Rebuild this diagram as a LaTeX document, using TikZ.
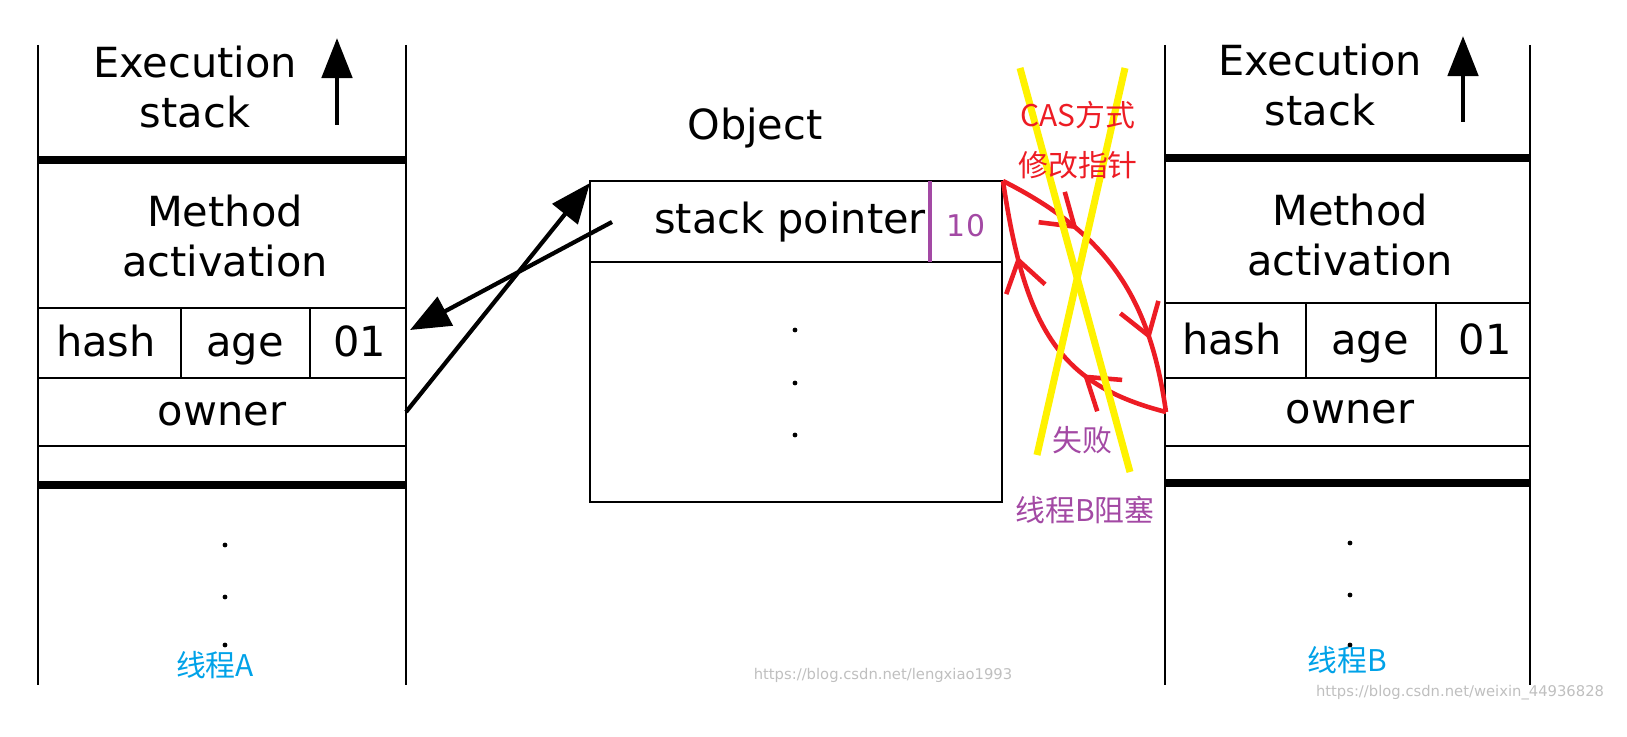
\documentclass[tikz,border=0pt]{standalone}
\usepackage{fontspec}
\setmainfont{DejaVu Sans}
\newfontfamily\cjk{Noto Sans CJK SC}
\usetikzlibrary{decorations.markings,arrows.meta}
\definecolor{casred}{RGB}{237,28,36}
\definecolor{failpurple}{RGB}{163,73,164}
\definecolor{threadblue}{RGB}{0,162,232}
\tikzset{
  lbl/.style={font=\fontsize{11.8}{14}\selectfont, align=center, inner sep=0pt},
  cell/.style={lbl, text height=1.6ex, text depth=0.4ex},
  cn/.style={font=\cjk\fontsize{8.5}{10}\selectfont, inner sep=0pt},
  wm/.style={font=\fontsize{4.2}{5}\selectfont, text=black!25, inner sep=0pt},
  redloop/.style={casred, line width=1.3pt, postaction={decorate},
    decoration={markings,
      mark=at position 0.3 with {\arrow{Straight Barb[length=3mm,width=4mm]}},
      mark=at position 0.75 with {\arrow{Straight Barb[length=3mm,width=4mm]}}}}
}
\begin{document}
\begin{tikzpicture}[x=0.01cm,y=-0.01cm]
        \useasboundingbox (0,0) rectangle (1627,737);
        \clip (0,0) rectangle (1627,737);

        % thread A stack
        \draw[thick] (38,45) -- (38,685);
        \draw[thick] (406,45) -- (406,685);
        \draw[line width=2.2pt] (38,160) -- (406,160);
        \draw[line width=2.2pt] (38,485) -- (406,485);
        \foreach \y in {308,378,446}
        \draw[thick] (38,\y) -- (406,\y);
        \foreach \x in {181,310}
        \draw[thick] (\x,308) -- (\x,378);
        \node[lbl] (execA) at (195,87) {Execution\\stack};
        \draw[-{Triangle[length=4mm,width=3mm]},line width=1.4pt] (337,125) -- (337,38);
        \node[lbl] (methA) at (225,236) {Method\\activation};
        \node[cell] (hashA) at (106,345) {hash};
        \node[cell] (ageA) at (245,345) {age};
        \node[cell] (bitsA) at (360,345) {01};
        \node[cell] (ownerA) at (222,414) {owner};
        \foreach \y in {545,597,645}
        \fill (225,\y) circle (2.4);
        \node[cn,text=threadblue] (thrA) at (215,665) {线程A};

        % object
        \node[lbl] (obj) at (755,128) {Object};
        \draw[thick] (590,181) rectangle (1002,502);
        \draw[thick] (590,262) -- (1002,262);
        \draw[failpurple,line width=1.4pt] (930,181) -- (930,262);
        \node[cell] (sp) at (790,222) {stack pointer};
        \node[cell,text=failpurple,font=\fontsize{8.5}{10}\selectfont] (ten) at (966,225) {10};
        \foreach \y in {330,383,435}
        \fill (795,\y) circle (2.4);

        % pointers
        \coordinate (spout) at (612,222);
        \coordinate (bitsin) at (410,330);
        \coordinate (ownout) at (406,412);
        \coordinate (objin) at (590,183);
        \draw[-{Triangle[length=4mm,width=3.2mm]},line width=1.2pt] (spout) -- (bitsin);
        \draw[-{Triangle[length=4mm,width=3.2mm]},line width=1.2pt] (ownout) -- (objin);

        % thread B stack
        \draw[thick] (1165,45) -- (1165,685);
        \draw[thick] (1530,45) -- (1530,685);
        \draw[line width=2.2pt] (1165,158) -- (1530,158);
        \draw[line width=2.2pt] (1165,483) -- (1530,483);
        \foreach \y in {303,378,446}
        \draw[thick] (1165,\y) -- (1530,\y);
        \foreach \x in {1306,1436}
        \draw[thick] (\x,303) -- (\x,378);
        \node[lbl] (execB) at (1320,85) {Execution\\stack};
        \draw[-{Triangle[length=4mm,width=3mm]},line width=1.4pt] (1463,122) -- (1463,36);
        \node[lbl] (methB) at (1350,235) {Method\\activation};
        \node[cell] (hashB) at (1232,343) {hash};
        \node[cell] (ageB) at (1370,343) {age};
        \node[cell] (bitsB) at (1485,343) {01};
        \node[cell] (ownerB) at (1350,412) {owner};
        \foreach \y in {543,595,645}
        \fill (1350,\y) circle (2.4);
        \node[cn,text=threadblue] (thrB) at (1347,660) {线程B};

        % CAS attempt
        \coordinate (corner) at (1003,181);
        \coordinate (ownerBin) at (1166,412);
        \draw[redloop] (corner) .. controls (1110,235) and (1150,300) .. (ownerBin);
        \draw[redloop] (ownerBin) .. controls (1060,385) and (1025,330) .. (corner);
        \draw[yellow,line width=2pt] (1020,68) -- (1130,472);
        \draw[yellow,line width=2pt] (1125,68) -- (1037,455);
        \node[cn,text=casred] (cas) at (1078,115) {CAS方式};
        \node[cn,text=casred] (mod) at (1078,165) {修改指针};
        \node[cn,text=failpurple] (fail) at (1082,440) {失败};
        \node[cn,text=failpurple] (block) at (1085,510) {线程B阻塞};

        % watermarks
        \node[wm] (wm1) at (883,675) {https://blog.csdn.net/lengxiao1993};
        \node[wm] (wm2) at (1460,693) {https://blog.csdn.net/weixin\_44936828};

        \end{tikzpicture}
\end{document}
